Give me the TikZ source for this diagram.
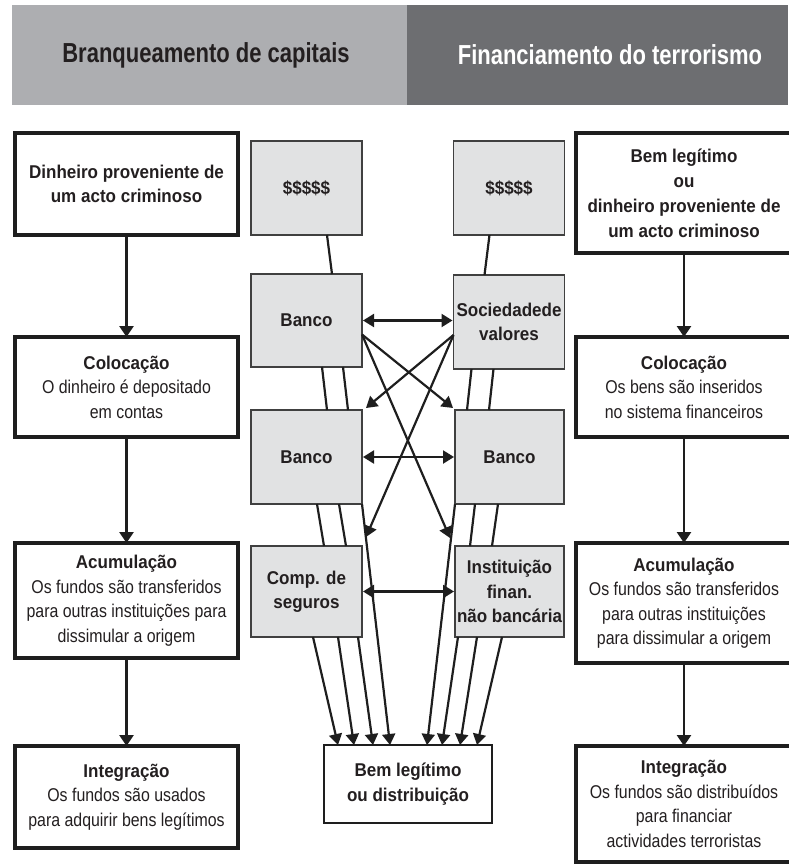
\documentclass[tikz,border=0pt]{standalone}
\usepackage{fontspec}
\setmainfont{Liberation Sans}[UprightFeatures={FakeStretch=0.86},BoldFeatures={FakeStretch=0.92}]
\newfontfamily\hdrfont{Liberation Sans}[FakeStretch=0.80]
\usetikzlibrary{calc,arrows.meta}
\definecolor{hdrL}{HTML}{ADAEB1}
\definecolor{hdrR}{HTML}{6D6E71}
\definecolor{midfill}{HTML}{E1E2E3}
\definecolor{txt}{HTML}{231F20}
\definecolor{ln}{HTML}{1E1E1E}
\begin{document}
\begin{tikzpicture}[x=1pt,y=-1pt,
  outbox/.style={draw=ln,line width=3.2pt,fill=white,align=center,inner sep=0pt,outer sep=0pt,
     text=txt,font=\fontsize{18.5}{24.5}\selectfont,minimum width=223pt},
  outboxR/.style={outbox,minimum width=216pt},
  midbox/.style={draw=ln!85,line width=1.6pt,fill=midfill,align=center,inner sep=0pt,outer sep=0pt,
     text=txt,font=\bfseries\fontsize{18.5}{24.5}\selectfont,minimum width=111pt,minimum height=94pt},
  endbox/.style={draw=ln,line width=1.8pt,fill=white,align=center,inner sep=0pt,outer sep=0pt,
     text=txt,font=\bfseries\fontsize{18.5}{25}\selectfont,minimum width=168pt,minimum height=78pt},
  conn/.style={draw=ln,line width=2.2pt},
  arr/.style={conn,-{Triangle[length=11pt,width=13pt]}},
  sarr/.style={conn,line width=2.8pt,-{Triangle[length=11pt,width=14pt]}},
  darr/.style={conn,{Triangle[length=11pt,width=13pt]}-{Triangle[length=11pt,width=13pt]},shorten <=1pt,shorten >=1pt},
  hdr/.style={font=\hdrfont\bfseries\fontsize{27.5}{32}\selectfont,inner sep=0pt}
]
\useasboundingbox (0,0) rectangle (788,864);
% header
\fill[hdrL] (12,5) rectangle (407,105);
\fill[hdrR] (407,5) rectangle (788,105);
\node[hdr,text=txt] (hL) at (206,55) {Branqueamento de capitais};
\node[hdr,text=white] (hR) at (610,55) {Financiamento do terrorismo};

% left column
\node[outbox,minimum height=102pt,font=\bfseries\fontsize{18.5}{24.5}\selectfont] (L1) at (126.5,184) {Dinheiro proveniente de\\um acto criminoso};
\node[outbox,minimum height=100pt] (L2) at (126.5,387) {\textbf{Colocação}\\O dinheiro é depositado\\em contas};
\node[outbox,minimum height=115pt] (L3) at (126.5,600.5) {\textbf{Acumulação}\\Os fundos são transferidos\\para outras instituições para\\dissimular a origem};
\node[outbox,minimum height=102pt] (L4) at (126.5,797) {\textbf{Integração}\\Os fundos são usados\\para adquirir bens legítimos};

% right column
\node[outboxR,minimum height=120pt,font=\bfseries\fontsize{18.5}{25}\selectfont] (R1) at (684,193) {Bem legítimo\\ou\\dinheiro proveniente de\\um acto criminoso};
\node[outboxR,minimum height=100pt] (R2) at (684,387) {\textbf{Colocação}\\Os bens são inseridos\\no sistema financeiros};
\node[outboxR,minimum height=120pt] (R3) at (684,603) {\textbf{Acumulação}\\Os fundos são transferidos\\para outras instituições\\para dissimular a origem};
\node[outboxR,minimum height=116pt] (R4) at (684,804) {\textbf{Integração}\\Os fundos são distribuídos\\para financiar\\actividades terroristas};

\draw[sarr] (L1) -- (L2);
\draw[sarr] (L2) -- (L3);
\draw[sarr] (L3) -- (L4);
\draw[sarr] (R1) -- (R2);
\draw[sarr] (R2) -- (R3);
\draw[sarr] (R3) -- (R4);

% middle boxes
\node[midbox] (dL) at (306.5,188) {\$\$\$\$\$};
\node[midbox] (dR) at (509,188) {\$\$\$\$\$};
\node[midbox,minimum height=93pt] (B1) at (306.5,320.5) {Banco};
\node[midbox] (Soc) at (509,322) {Sociedadede\\valores};
\node[midbox] (B2L) at (306.5,457) {Banco};
\node[midbox,minimum width=109pt] (B2R) at (509.5,457) {Banco};
\node[midbox,minimum height=91pt] (Comp) at (306.5,591.5) {Comp. de\\seguros};
\node[midbox,minimum height=91pt,minimum width=109pt] (Inst) at (509.5,591.5) {Instituição\\finan.\\não bancária};
\node[endbox] (Bt) at (408,784) {Bem legítimo\\ou distribuição};

% vertical links
\draw[conn] ($(dL.south west)+(76,0)$) -- ($(B1.north west)+(81,0)$);
\draw[conn] ($(dR.south west)+(36,0)$) -- ($(Soc.north west)+(31,0)$);
\draw[conn] ($(B1.south west)+(71,0)$) -- ($(B2L.north west)+(76,0)$);
\draw[conn] ($(B1.south west)+(92,0)$) -- ($(B2L.north west)+(97,0)$);
\draw[conn] ($(B2L.south west)+(66,0)$) -- ($(Comp.north west)+(73,0)$);
\draw[conn] ($(B2L.south west)+(88,0)$) -- ($(Comp.north west)+(95,0)$);
\draw[conn] ($(Soc.south west)+(18,0)$) -- ($(B2R.north west)+(12,0)$);
\draw[conn] ($(Soc.south west)+(40,0)$) -- ($(B2R.north west)+(34,0)$);
\draw[conn] ($(B2R.south west)+(20,0)$) -- ($(Inst.north west)+(15,0)$);
\draw[conn] ($(B2R.south west)+(43,0)$) -- ($(Inst.north west)+(37,0)$);

% horizontal double arrows
\draw[darr] (B1.east) -- (B1.east -| Soc.west);
\draw[darr] (B2L.east) -- (B2L.east -| B2R.west);
\draw[darr] (Comp.east) -- (Comp.east -| Inst.west);

% cross arrows
\draw[arr] ($(B1.east)+(0,14)$) -- ($(B2R.north west)+(-2,-2)$);
\draw[arr] ($(B1.east)+(0,14)$) -- ($(Inst.north west)+(-5,-8)$);
\draw[arr] ($(Soc.west)+(0,13)$) -- ($(B2L.north east)+(4,-2)$);
\draw[arr] ($(Soc.west)+(0,13)$) -- ($(Comp.north east)+(4,-9)$);

% arrows into bottom box
\draw[arr] ($(Comp.south west)+(62,0)$) -- ($(Bt.north west)+(14,0)$);
\draw[arr] ($(Comp.south west)+(87,0)$) -- ($(Bt.north west)+(30,0)$);
\draw[arr] ($(Comp.south west)+(107,0)$) -- ($(Bt.north west)+(49,0)$);
\draw[arr] (B2L.south east) -- ($(Bt.north west)+(66,0)$);
\draw[arr] (B2R.south west) -- ($(Bt.north west)+(103,0)$);
\draw[arr] ($(Inst.south west)+(3,0)$) -- ($(Bt.north west)+(118,0)$);
\draw[arr] ($(Inst.south west)+(22,0)$) -- ($(Bt.north west)+(136,0)$);
\draw[arr] ($(Inst.south west)+(47,0)$) -- ($(Bt.north west)+(153,0)$);
\end{tikzpicture}
\end{document}
